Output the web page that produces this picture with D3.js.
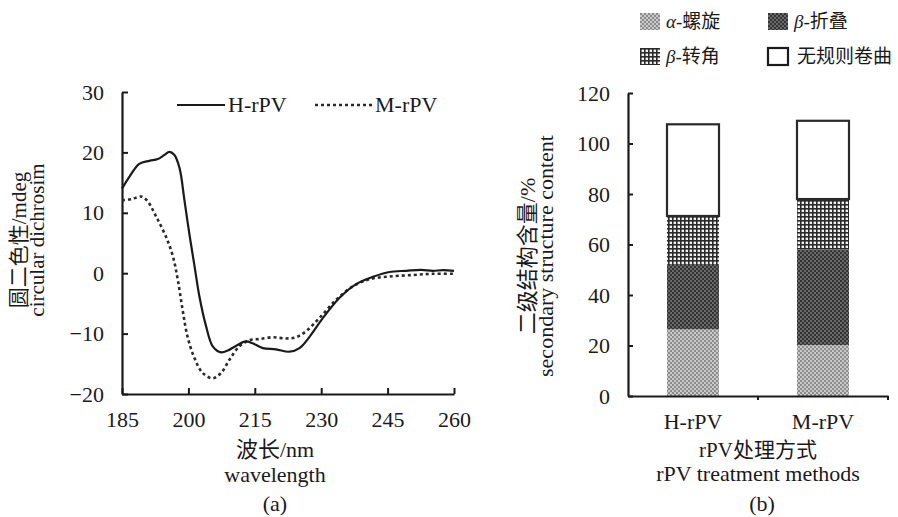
<!DOCTYPE html>
<html>
<head>
<meta charset="utf-8">
<script src="https://cdn.jsdelivr.net/npm/d3@7"></script>
<style>
  body { margin: 0; background: #fff; }
  svg text { font-family: "Liberation Serif", "Noto Sans CJK SC", serif; fill: #1a1a1a; }
</style>
</head>
<body>
<div id="chart"></div>
<script>
// (a) CD spectra, wavelength in nm vs mdeg
var h_wl = [185, 186.7, 188.9, 191.2, 193.1, 194.6, 195.7, 196.8, 198, 199.1, 200.2, 201.4, 202.5, 204, 205.5, 207.4, 208.9, 210.8, 213, 214.5, 216.8, 219.8, 222.8, 225.1, 227.4, 230.4, 234.1, 237.9, 241.7, 245.4, 249.2, 252.6, 255.2, 257.5, 260];
var h_cd = [14, 16, 18.1, 18.6, 18.9, 19.6, 20.1, 19.6, 17.4, 12.1, 6.6, 1.1, -3.9, -8.8, -12.1, -13.1, -12.8, -12, -11.3, -11.6, -12.4, -12.6, -13, -12.4, -10.5, -7.4, -4.1, -1.8, -0.6, 0.2, 0.4, 0.55, 0.4, 0.5, 0.4];
var m_wl = [185, 187.4, 189.3, 190.8, 192.7, 194.9, 196.5, 197.6, 198.7, 199.8, 201.4, 203.2, 205.5, 207.4, 209.3, 211.5, 213.8, 216, 219, 222.1, 224.3, 226.6, 229.6, 233.4, 237.1, 240.9, 245.4, 250.7, 255.2, 260];
var m_cd = [12.1, 12.3, 12.7, 11.9, 9.4, 6.1, 2.8, -1.1, -6.1, -10.5, -14.1, -16.5, -17.4, -16.5, -14.3, -12.1, -11.1, -10.9, -10.6, -10.8, -10.6, -9.6, -7.4, -4.4, -2.2, -1, -0.55, -0.3, -0.1, -0.1];
var wl_ticks = [185, 200, 215, 230, 245, 260];
var cd_ticks = [-20, -10, 0, 10, 20, 30];

// (b) secondary structure, %
var methods = ["H-rPV", "M-rPV"];
var alpha_helix = [26.4, 20.2];
var beta_sheet = [25.9, 37.9];
var beta_turn = [19.0, 19.9];
var random_coil = [36.3, 31.0];
var pct_ticks = [0, 20, 40, 60, 80, 100, 120];

var svg = d3.select("#chart").append("svg")
  .attr("width", 898)
  .attr("height", 517);

// patterns for the stacked bars
var defs = svg.append("defs");
var p1 = defs.append("pattern").attr("id", "patAlpha").attr("width", 4).attr("height", 4).attr("patternUnits", "userSpaceOnUse");
p1.append("rect").attr("width", 4).attr("height", 4).attr("fill", "#c9c9c9");
p1.append("rect").attr("width", 2).attr("height", 2).attr("fill", "#8c8c8c");
p1.append("rect").attr("x", 2).attr("y", 2).attr("width", 2).attr("height", 2).attr("fill", "#8c8c8c");
var p2 = defs.append("pattern").attr("id", "patSheet").attr("width", 4).attr("height", 4).attr("patternUnits", "userSpaceOnUse");
p2.append("rect").attr("width", 4).attr("height", 4).attr("fill", "#6a6a6a");
p2.append("rect").attr("width", 2).attr("height", 2).attr("fill", "#333");
p2.append("rect").attr("x", 2).attr("y", 2).attr("width", 2).attr("height", 2).attr("fill", "#333");
var p3 = defs.append("pattern").attr("id", "patTurn").attr("width", 4).attr("height", 4).attr("patternUnits", "userSpaceOnUse");
p3.append("rect").attr("width", 4).attr("height", 4).attr("fill", "#f2f2f2");
p3.append("rect").attr("width", 4).attr("height", 1.6).attr("fill", "#2a2a2a");
p3.append("rect").attr("width", 1.6).attr("height", 4).attr("fill", "#2a2a2a");

// ---------- chart (a) ----------
var x = d3.scaleLinear().domain([185, 260]).range([122, 454]);
var y = d3.scaleLinear().domain([-20, 30]).range([394, 92]);

var gx = svg.append("g").attr("transform", "translate(0,394)")
  .call(d3.axisBottom(x).tickValues(wl_ticks).tickSize(-6).tickSizeOuter(0).tickPadding(17));
var gy = svg.append("g").attr("transform", "translate(122,0)")
  .call(d3.axisLeft(y).tickValues(cd_ticks).tickSize(-6).tickSizeOuter(0).tickPadding(18)
    .tickFormat(function (d) { return d < 0 ? "\u2212" + Math.abs(d) : d; }));

var line = d3.line()
  .x(function (d) { return x(d[0]); })
  .y(function (d) { return y(d[1]); })
  .curve(d3.curveCatmullRom);

svg.append("path")
  .datum(d3.zip(m_wl, m_cd))
  .attr("d", line)
  .attr("fill", "none").attr("stroke", "#2a2a2a").attr("stroke-width", 2.6)
  .attr("stroke-dasharray", "3,3");
svg.append("path")
  .datum(d3.zip(h_wl, h_cd))
  .attr("d", line)
  .attr("fill", "none").attr("stroke", "#1a1a1a").attr("stroke-width", 2.2);

// legend (a)
svg.append("line").attr("x1", 177).attr("x2", 225).attr("y1", 105).attr("y2", 105)
  .attr("stroke", "#1a1a1a").attr("stroke-width", 2.2);
svg.append("text").attr("x", 228).attr("y", 112).attr("font-size", 22).text("H-rPV");
svg.append("line").attr("x1", 315).attr("x2", 372).attr("y1", 105).attr("y2", 105)
  .attr("stroke", "#2a2a2a").attr("stroke-width", 2.6).attr("stroke-dasharray", "3,3");
svg.append("text").attr("x", 375).attr("y", 112).attr("font-size", 22).text("M-rPV");

// axis titles (a)
var ylabA = svg.append("text").attr("transform", "translate(26,240) rotate(-90)")
  .attr("text-anchor", "middle").attr("font-size", 21);
ylabA.append("tspan").attr("x", 0).attr("dy", 0).text("圆二色性/mdeg");
ylabA.append("tspan").attr("x", 0).attr("dy", 18).text("circular dichrosim");

svg.append("text").attr("x", 275).attr("y", 457).attr("text-anchor", "middle").attr("font-size", 22).text("波长/nm");
svg.append("text").attr("x", 275).attr("y", 482).attr("text-anchor", "middle").attr("font-size", 22).text("wavelength");
svg.append("text").attr("x", 275).attr("y", 511).attr("text-anchor", "middle").attr("font-size", 22).text("(a)");

// ---------- chart (b) ----------
var xb = d3.scaleBand().domain(methods).range([628, 888]).paddingInner(0.6).paddingOuter(0.3);
var yb = d3.scaleLinear().domain([0, 120]).range([396, 93]);

var series = [
  { key: "alpha", vals: alpha_helix, fill: "url(#patAlpha)" },
  { key: "sheet", vals: beta_sheet, fill: "url(#patSheet)" },
  { key: "turn", vals: beta_turn, fill: "url(#patTurn)" },
  { key: "coil", vals: random_coil, fill: "#fff" }
];
var table = methods.map(function (m, i) {
  var row = { method: m };
  series.forEach(function (s) { row[s.key] = s.vals[i]; });
  return row;
});
var stack = d3.stack().keys(series.map(function (s) { return s.key; }))(table);

stack.forEach(function (layer, li) {
  svg.append("g").selectAll("rect")
    .data(layer)
    .enter().append("rect")
    .attr("x", function (d) { return xb(d.data.method); })
    .attr("width", xb.bandwidth())
    .attr("y", function (d) { return yb(d[1]); })
    .attr("height", function (d) { return yb(d[0]) - yb(d[1]); })
    .attr("fill", series[li].fill)
    .attr("stroke", series[li].key == "coil" ? "#2a2a2a" : "none")
    .attr("stroke-width", 2.2);
});

var gxb = svg.append("g").attr("transform", "translate(0,396)")
  .call(d3.axisBottom(xb).tickSize(0).tickSizeOuter(0).tickPadding(17));
// small ticks between the groups
[1, 2].forEach(function (i) {
  var tx = xb.range()[0] + xb.step() * i;
  svg.append("line").attr("x1", tx).attr("x2", tx).attr("y1", 396).attr("y2", 400)
    .attr("stroke", "#1a1a1a").attr("stroke-width", 2);
});
var gyb = svg.append("g").attr("transform", "translate(628,0)")
  .call(d3.axisLeft(yb).tickValues(pct_ticks).tickSize(-5).tickSizeOuter(0).tickPadding(18));

[gx, gy, gxb, gyb].forEach(function (g) {
  g.selectAll("text").attr("font-size", 22).attr("fill", "#1a1a1a")
    .style("font-family", "'Liberation Serif', 'Noto Sans CJK SC', serif");
  g.select(".domain").attr("stroke", "#1a1a1a").attr("stroke-width", 2.2);
  g.selectAll(".tick line").attr("stroke", "#1a1a1a").attr("stroke-width", 2);
});

// axis titles (b)
var ylabB = svg.append("text").attr("transform", "translate(535,256) rotate(-90)")
  .attr("text-anchor", "middle").attr("font-size", 22);
ylabB.append("tspan").attr("x", 0).attr("dy", 0).text("二级结构含量/%");
ylabB.append("tspan").attr("x", 0).attr("dy", 18).text("secondary structure content");

svg.append("text").attr("x", 758).attr("y", 457).attr("text-anchor", "middle").attr("font-size", 21).text("rPV处理方式");
svg.append("text").attr("x", 758).attr("y", 481).attr("text-anchor", "middle").attr("font-size", 22).text("rPV treatment methods");
svg.append("text").attr("x", 762).attr("y", 511).attr("text-anchor", "middle").attr("font-size", 22).text("(b)");

// legend (b)
var legendItems = [
  { greek: "α", rest: "-螺旋", fill: "url(#patAlpha)", x: 640, y: 13 },
  { greek: "β", rest: "-折叠", fill: "url(#patSheet)", x: 768, y: 13 },
  { greek: "β", rest: "-转角", fill: "url(#patTurn)", x: 640, y: 48 },
  { greek: "", rest: "无规则卷曲", fill: "#fff", x: 768, y: 48 }
];
var lg = svg.append("g").selectAll("g").data(legendItems).enter().append("g")
  .attr("transform", function (d) { return "translate(" + d.x + "," + d.y + ")"; });
lg.append("rect").attr("width", 20).attr("height", 17)
  .attr("fill", function (d) { return d.fill; })
  .attr("stroke", function (d) { return d.greek == "" ? "#1a1a1a" : "none"; })
  .attr("stroke-width", 2.2);
var lt = lg.append("text").attr("x", function (d) { return d.greek == "" ? 29 : 26; }).attr("y", 15).attr("font-size", 19);
lt.append("tspan").attr("font-style", "italic").text(function (d) { return d.greek; });
lt.append("tspan").text(function (d) { return d.rest; });
</script>
</body>
</html>
